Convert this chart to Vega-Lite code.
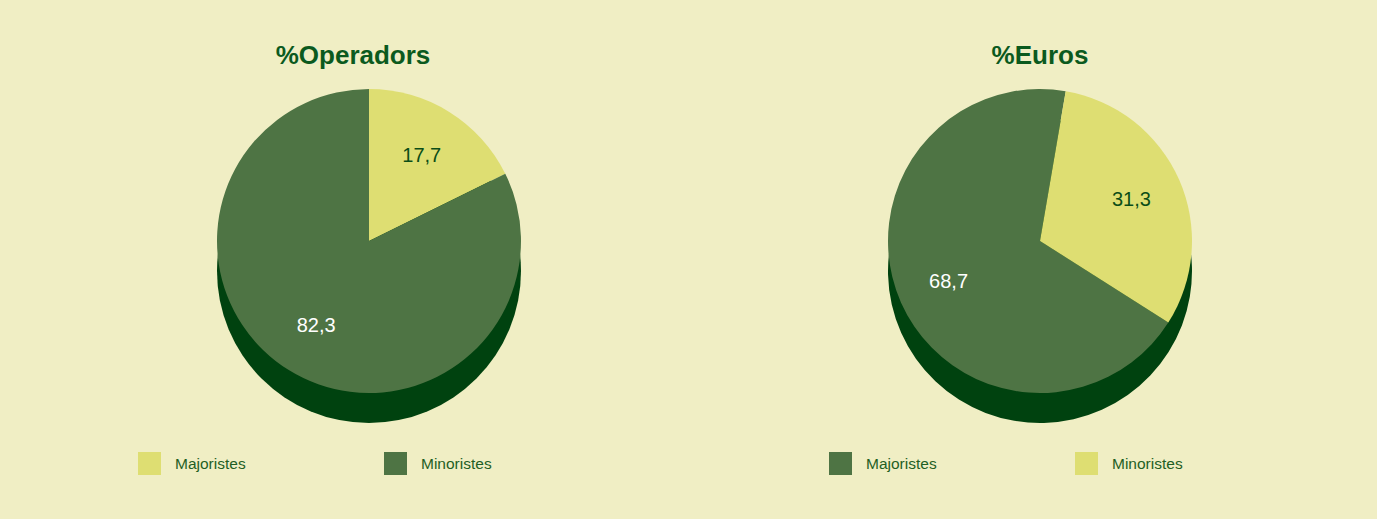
{
  "$schema": "https://vega.github.io/schema/vega-lite/v6.json",
  "background": "#f0eec4",
  "padding": {"left": 34, "top": 43, "right": 2, "bottom": 44},
  "config": {
    "view": {"stroke": null},
    "concat": {"spacing": 1},
    "locale": {"number": {"decimal": ",", "thousands": ".", "grouping": [3], "currency": ["", " €"]}},
    "title": {"font": "Liberation Sans", "fontSize": 26, "fontWeight": "bold", "color": "#0b5a1e", "anchor": "middle", "baseline": "alphabetic", "offset": 18},
    "legend": {
      "orient": "none",
      "direction": "horizontal",
      "title": null,
      "symbolType": "square",
      "symbolSize": 529,
      "symbolStrokeWidth": 0,
      "symbolOpacity": 1,
      "labelFont": "Liberation Sans",
      "labelFontSize": 15.5,
      "labelColor": "#1f5f24",
      "labelOffset": 14,
      "columnPadding": 138,
      "padding": 0
    }
  },
  "resolve": {"scale": {"color": "independent", "theta": "independent"}, "legend": {"color": "independent"}},
  "hconcat": [
    {
      "width": 670,
      "height": 308,
      "title": {"text": "%Operadors", "dx": -16},
      "data": {"values": [
        {"grupo": "Majoristes", "valor": 17.7},
        {"grupo": "Minoristes", "valor": 82.3}
      ]},
      "layer": [
        {
          "mark": {"type": "arc", "outerRadius": 152, "yOffset": 30, "color": "#00420f"},
          "encoding": {"theta": {"aggregate": "sum", "field": "valor", "type": "quantitative", "stack": true}}
        },
        {
          "mark": {"type": "arc", "outerRadius": 152},
          "encoding": {
            "theta": {"field": "valor", "type": "quantitative", "stack": true},
            "order": {"field": "grupo", "sort": "ascending"},
            "color": {
              "field": "grupo", "type": "nominal",
              "scale": {"domain": ["Majoristes", "Minoristes"], "range": ["#dede72", "#4e7444"]},
              "legend": {"legendX": 104, "legendY": 365}
            }
          }
        },
        {
          "mark": {"type": "text", "radius": 100, "font": "Liberation Sans", "fontSize": 20},
          "encoding": {
            "theta": {"field": "valor", "type": "quantitative", "stack": true},
            "order": {"field": "grupo", "sort": "ascending"},
            "text": {"field": "valor", "type": "quantitative", "format": ".1f"},
            "color": {"condition": {"test": "datum.grupo === 'Majoristes'", "value": "#0b4d17"}, "value": "#ffffff"}
          }
        }
      ]
    },
    {
      "width": 670,
      "height": 308,
      "title": {"text": "%Euros"},
      "data": {"values": [
        {"grupo": "Majoristes", "valor": 68.7},
        {"grupo": "Minoristes", "valor": 31.3}
      ]},
      "layer": [
        {
          "mark": {"type": "arc", "outerRadius": 152, "yOffset": 30, "color": "#00420f"},
          "encoding": {"theta": {"aggregate": "sum", "field": "valor", "type": "quantitative", "stack": true}}
        },
        {
          "mark": {"type": "arc", "outerRadius": 152},
          "encoding": {
            "theta": {"field": "valor", "type": "quantitative", "stack": true, "scale": {"range": [0.17, 6.4532]}},
            "order": {"field": "grupo", "sort": "descending"},
            "color": {
              "field": "grupo", "type": "nominal",
              "scale": {"domain": ["Majoristes", "Minoristes"], "range": ["#4e7444", "#dede72"]},
              "legend": {"legendX": 124, "legendY": 365}
            }
          }
        },
        {
          "mark": {"type": "text", "radius": 100, "font": "Liberation Sans", "fontSize": 20},
          "encoding": {
            "theta": {"field": "valor", "type": "quantitative", "stack": true},
            "order": {"field": "grupo", "sort": "descending"},
            "text": {"field": "valor", "type": "quantitative", "format": ".1f"},
            "color": {"condition": {"test": "datum.grupo === 'Minoristes'", "value": "#0b4d17"}, "value": "#ffffff"}
          }
        }
      ]
    }
  ]
}
